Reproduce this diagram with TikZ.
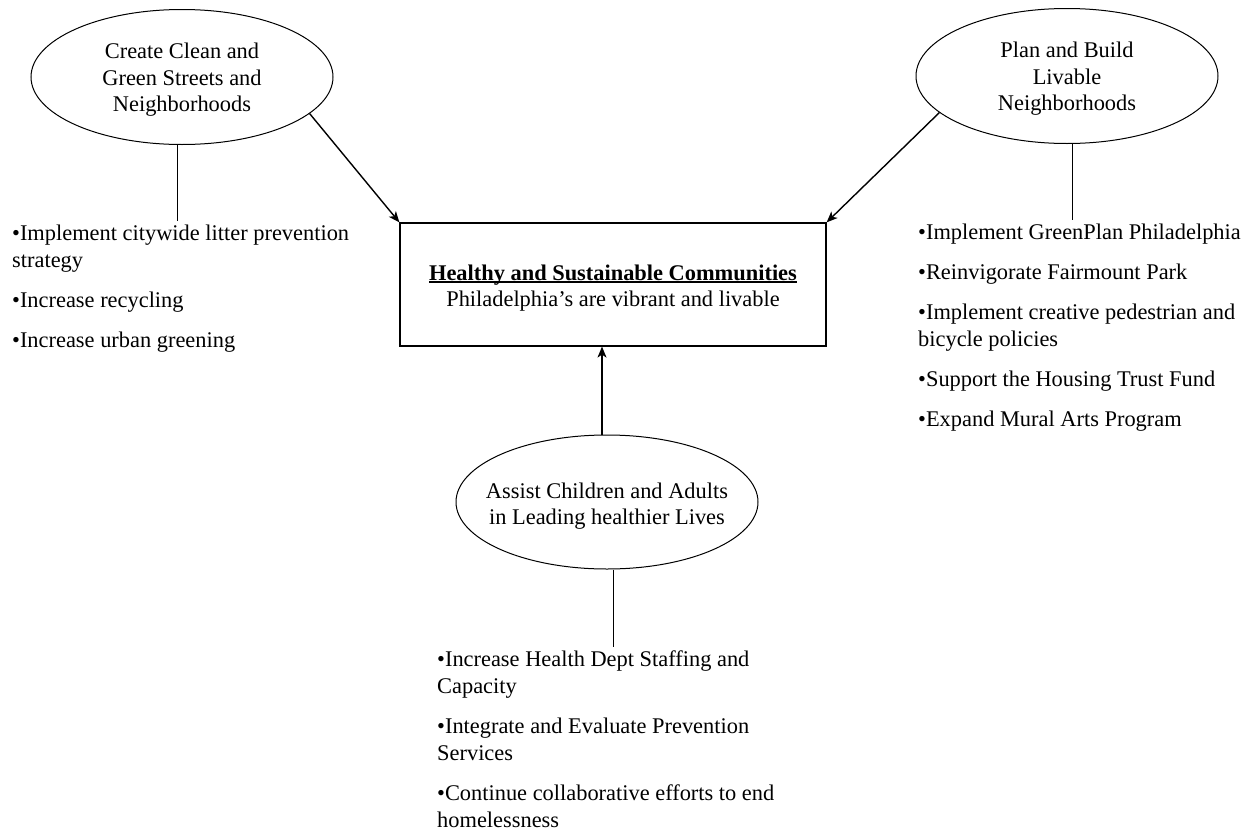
\documentclass[tikz,border=0pt]{standalone}
\usepackage{fontspec}
\setmainfont{Liberation Serif}
\usetikzlibrary{arrows.meta,shapes.geometric}
\newcommand{\myunderbar}[1]{\setbox0\hbox{#1}\rlap{\rule[-3pt]{\wd0}{1.8pt}}\box0}
\begin{document}
\begin{tikzpicture}[x=1pt,y=-1pt,
  oval/.style={ellipse, draw, line width=1pt, minimum width=302pt, minimum height=135pt, inner sep=0pt},
  ovaltext/.style={align=center, inner sep=0pt, font=\fontsize{22.4}{26.3}\selectfont},
  boxnode/.style={rectangle, draw, line width=1.2pt, minimum width=426pt, minimum height=123pt, inner sep=0pt},
  listnode/.style={anchor=north west, inner sep=0pt, align=left, font=\fontsize{22.4}{27}\selectfont},
  arr/.style={-{Stealth[length=11pt,width=9pt,inset=3pt]}, line width=1.4pt},
  link/.style={line width=1pt}]
\useasboundingbox (0,0) rectangle (1254,830);

\node[oval, label={[ovaltext, yshift=-2.9pt]center:Create Clean and\\Green Streets and\\Neighborhoods}] (e1) at (182,77) {};
\node[oval, label={[ovaltext, yshift=-2.9pt]center:Plan and Build\\Livable\\Neighborhoods}] (e2) at (1067,76) {};
\node[oval, minimum height=134pt, label={[ovaltext, yshift=-3.8pt]center:Assist Children and Adults\\in Leading healthier Lives}] (e3) at (607,502) {};

\node[boxnode, label={[ovaltext, font=\fontsize{22.4}{26}\selectfont, yshift=-3.4pt]center:\myunderbar{\textbf{Healthy and Sustainable Communities}}\\Philadelphia’s are vibrant and livable}] (box) at (613,284.5) {};

\node[listnode] (L1) at (12,221.1) {\strut•Implement citywide litter prevention\\strategy\\[13pt]•Increase recycling\\[13pt]•Increase urban greening};
\node[listnode] (R1) at (918,220.1) {\strut•Implement GreenPlan Philadelphia\\[13pt]•Reinvigorate Fairmount Park\\[13pt]•Implement creative pedestrian and\\bicycle policies\\[13pt]•Support the Housing Trust Fund\\[13pt]•Expand Mural Arts Program};
\node[listnode] (B1) at (437,647.1) {\strut•Increase Health Dept Staffing and\\Capacity\\[13pt]•Integrate and Evaluate Prevention\\Services\\[13pt]•Continue collaborative efforts to end\\homelessness};

\draw[arr] (e1.-16.6) -- (box.north west);
\draw[arr] (e2.-164) -- (box.north east);
\draw[arr] ([xshift=-5pt]e3.north) -- ([xshift=-5pt]e3.north |- box.south);

\draw[link] ([xshift=-5pt]e1.south) -- ([xshift=-5pt]e1.south |- L1.north);
\draw[link] ([xshift=5pt]e2.south) -- ([xshift=5pt]e2.south |- R1.north);
\draw[link] ([xshift=6pt]e3.south) -- ([xshift=6pt]e3.south |- B1.north);
\end{tikzpicture}
\end{document}
